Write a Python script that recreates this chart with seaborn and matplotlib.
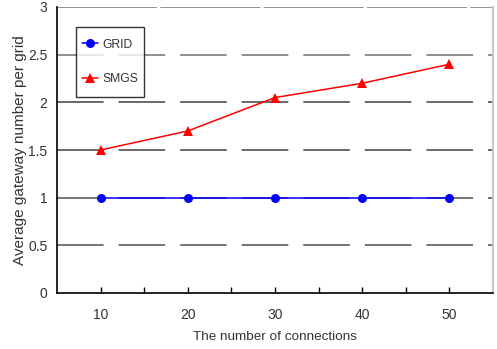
import matplotlib
matplotlib.use("Agg")
import matplotlib.pyplot as plt
import seaborn as sns
import pandas as pd
import numpy as np

connections = [10, 20, 30, 40, 50]
grid_values = [1.0, 1.0, 1.0, 1.0, 1.0]
smgs_values = [1.5, 1.7, 2.05, 2.2, 2.4]
x_ticks = [10, 20, 30, 40, 50]
y_ticks = [0, 0.5, 1, 1.5, 2, 2.5, 3]
y_tick_labels = ["0", "0.5", "1", "1.5", "2", "2.5", "3"]

df = pd.DataFrame({
    "connections": connections * 2,
    "value": grid_values + smgs_values,
    "method": ["GRID"] * len(connections) + ["SMGS"] * len(connections),
})

sns.set_style("white")
plt.rcParams["font.family"] = ["Liberation Sans", "DejaVu Sans"]

fig = plt.figure(figsize=(4.97, 3.49), dpi=100)
ax = fig.add_axes([57 / 497, 1 - 293 / 349, (493 - 57) / 497, (293 - 7) / 349])

# long-dash horizontal guide lines (dash lengths in points)
guide_colors = {0.5: "#505050", 1: "#505050", 1.5: "#404040", 2: "#404040",
                2.5: "#707070", 3: "#808080"}
for yv in y_ticks[1:]:
    if yv == 3:
        ax.axhline(yv, color=guide_colors[yv], lw=1.2, dashes=(60, 2), zorder=0)
    else:
        ax.axhline(yv, color=guide_colors[yv], lw=1.1, dashes=(30.5, 9.8), zorder=0)

sns.lineplot(
    data=df, x="connections", y="value", hue="method", style="method",
    palette={"GRID": "#0000ff", "SMGS": "#ff0000"},
    markers={"GRID": "o", "SMGS": "^"}, dashes=False,
    markersize=6.5, markeredgewidth=0, linewidth=1.1, ax=ax,
)

ax.set_xlim(5, 55)
ax.set_ylim(0, 3)
ax.set_xticks(x_ticks)
ax.set_xticks([15, 25, 35, 45], minor=True)
ax.set_yticks(y_ticks)
ax.set_yticklabels(y_tick_labels)
ax.tick_params(axis="x", which="both", direction="in", length=4, width=1,
               color="black", labelsize=10, pad=11, labelcolor="#333333",
               bottom=True)
ax.tick_params(axis="y", length=0, labelsize=10, pad=7, labelcolor="#333333")

for side in ["left", "bottom"]:
    ax.spines[side].set_color("black")
    ax.spines[side].set_linewidth(1.2)
ax.spines["top"].set_visible(False)
ax.spines["right"].set_color("#c8c8c8")
ax.spines["right"].set_linewidth(1.5)

ax.set_xlabel("The number of connections", fontsize=9.7, color="#333333")
ax.set_ylabel("Average gateway number per grid", fontsize=11, color="#333333")
ax.xaxis.set_label_coords(0.5, -0.132)
ax.yaxis.set_label_coords(-0.069, 0.5)

leg = ax.legend(
    title=None, loc="upper left",
    bbox_to_anchor=((76 - 57) / 436, (293 - 27) / 286),
    frameon=True, fancybox=False, fontsize=8.7,
    handlelength=1.32, handleheight=2.55, labelspacing=0.95,
    handletextpad=0.33, borderpad=0.5, borderaxespad=0,
)
# centre each label vertically on its (tall) handle
for column in leg._legend_handle_box.get_children():
    for row in column.get_children():
        row.align = "center"
# lower the handle lines to the middle of their rows
for h in leg.legend_handles:
    h.set_ydata(np.asarray(h.get_ydata(), dtype=float) - 2.0)
leg.get_frame().set_edgecolor("black")
leg.get_frame().set_linewidth(1.0)
for t in leg.get_texts():
    t.set_color("#333333")

fig.savefig("out.png", dpi=100, facecolor="white")
